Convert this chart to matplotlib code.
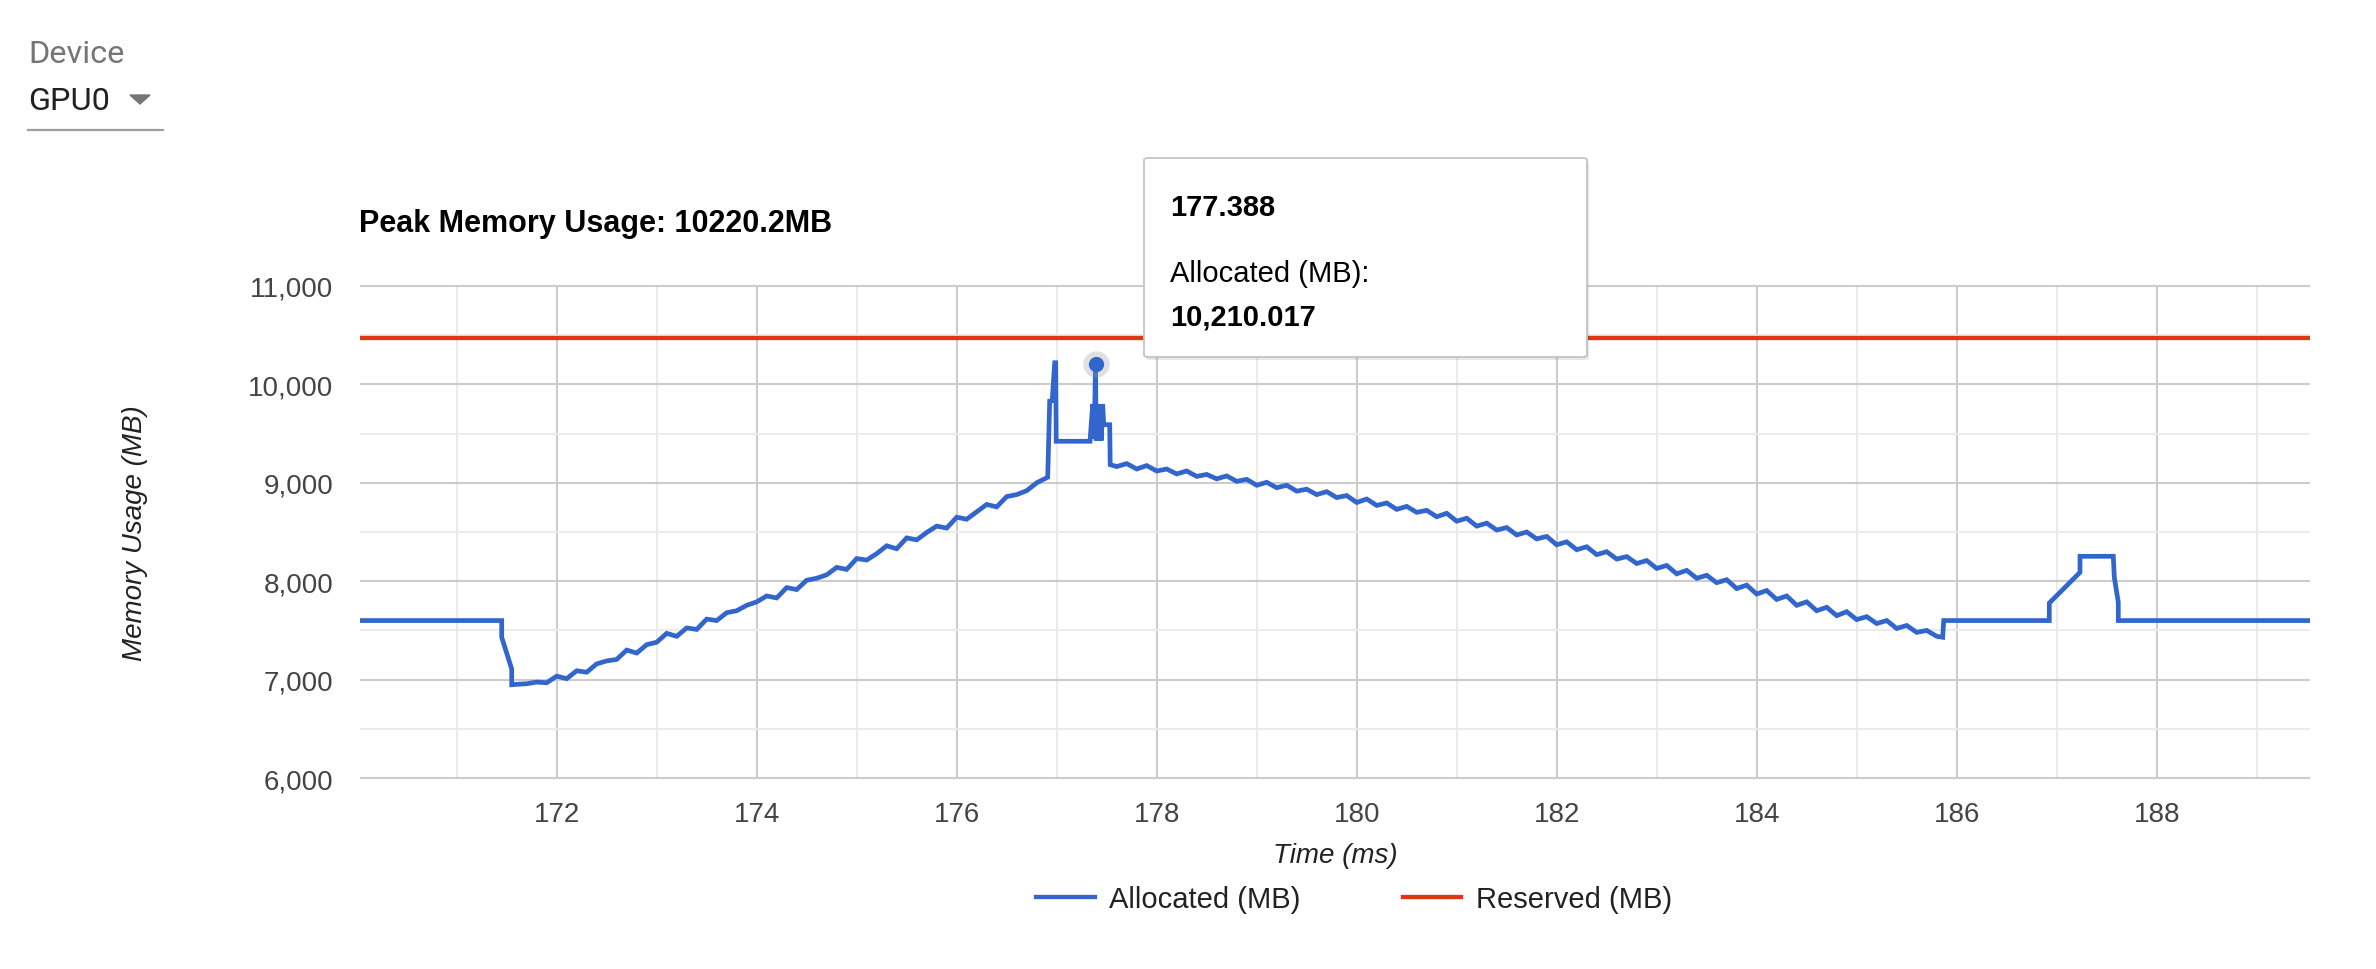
import matplotlib
matplotlib.use('Agg')
import matplotlib.pyplot as plt
from matplotlib.ticker import FuncFormatter, FixedLocator
from matplotlib.patches import FancyBboxPatch, Polygon
from matplotlib.lines import Line2D

plt.rcParams['font.family'] = ['Liberation Sans', 'DejaVu Sans']

# ---------------- data ----------------
pre_time = [170.0, 171.45, 171.45, 171.55, 171.55]
pre_mb = [7600, 7600, 7430, 7108, 6948]

ramp_time = [171.6, 171.7, 171.8, 171.9, 172.0, 172.1, 172.2, 172.3, 172.4, 172.5,
             172.6, 172.7, 172.8, 172.9, 173.0, 173.1, 173.2, 173.3, 173.4, 173.5,
             173.6, 173.7, 173.8, 173.9, 174.0, 174.1, 174.2, 174.3, 174.4, 174.5,
             174.6, 174.7, 174.8, 174.9, 175.0, 175.1, 175.2, 175.3, 175.4, 175.5,
             175.6, 175.7, 175.8, 175.9, 176.0, 176.1, 176.2, 176.3, 176.4, 176.5,
             176.6, 176.7, 176.8, 176.9]
ramp_mb = [6952, 6958, 6975, 6968, 7035, 7010, 7090, 7075, 7160, 7190,
           7205, 7300, 7270, 7355, 7380, 7470, 7440, 7525, 7510, 7615,
           7600, 7680, 7700, 7755, 7790, 7850, 7830, 7935, 7915, 8010,
           8030, 8065, 8140, 8120, 8230, 8215, 8280, 8360, 8330, 8440,
           8420, 8495, 8560, 8540, 8650, 8630, 8705, 8780, 8755, 8860,
           8880, 8920, 9000, 9050]

peak_time = [176.91, 176.93, 176.955, 176.98, 176.99, 176.995, 177.333, 177.36,
             177.375, 177.388, 177.395, 177.41, 177.42, 177.435, 177.445, 177.46,
             177.47, 177.53, 177.535]
peak_mb = [9056, 9830, 9834, 10220, 10220, 9422, 9422, 9800,
           9450, 10210, 9430, 9800, 9430, 9800, 9430, 9800,
           9590, 9590, 9184]

decline_time = [177.6, 177.7, 177.8, 177.9, 178.0, 178.1, 178.2, 178.3, 178.4, 178.5,
                178.6, 178.7, 178.8, 178.9, 179.0, 179.1, 179.2, 179.3, 179.4, 179.5,
                179.6, 179.7, 179.8, 179.9, 180.0, 180.1, 180.2, 180.3, 180.4, 180.5,
                180.6, 180.7, 180.8, 180.9, 181.0, 181.1, 181.2, 181.3, 181.4, 181.5,
                181.6, 181.7, 181.8, 181.9, 182.0, 182.1, 182.2, 182.3, 182.4, 182.5,
                182.6, 182.7, 182.8, 182.9, 183.0, 183.1, 183.2, 183.3, 183.4, 183.5,
                183.6, 183.7, 183.8, 183.9, 184.0, 184.1, 184.2, 184.3, 184.4, 184.5,
                184.6, 184.7, 184.8, 184.9, 185.0, 185.1, 185.2, 185.3, 185.4, 185.5,
                185.6, 185.7, 185.8, 185.86]
decline_mb = [9165, 9195, 9140, 9175, 9120, 9140, 9090, 9120, 9065, 9085,
              9040, 9070, 9015, 9035, 8975, 9005, 8950, 8975, 8915, 8935,
              8880, 8910, 8850, 8870, 8800, 8835, 8770, 8795, 8730, 8760,
              8700, 8720, 8655, 8690, 8610, 8640, 8560, 8590, 8520, 8545,
              8470, 8500, 8430, 8455, 8370, 8400, 8320, 8350, 8270, 8300,
              8225, 8250, 8180, 8210, 8130, 8160, 8075, 8110, 8030, 8060,
              7985, 8015, 7925, 7960, 7870, 7905, 7815, 7850, 7755, 7790,
              7700, 7735, 7650, 7690, 7610, 7640, 7570, 7600, 7520, 7550,
              7480, 7500, 7440, 7430]

tail_time = [185.87, 186.926, 186.926, 187.233, 187.233, 187.566, 187.576, 187.616, 187.616, 189.6]
tail_mb = [7600, 7600, 7778, 8090, 8253, 8253, 8040, 7785, 7600, 7600]

reserved_time = [170.0, 189.6]
reserved_mb = [10472, 10472]

x_major_ticks = [172, 174, 176, 178, 180, 182, 184, 186, 188]
x_minor_ticks = [171, 173, 175, 177, 179, 181, 183, 185, 187, 189]
y_major_ticks = [6000, 7000, 8000, 9000, 10000, 11000]
y_minor_ticks = [6500, 7500, 8500, 9500, 10500]

tooltip_time = 177.388
tooltip_mb = 10210.017
peak_usage = 10220.2

series_labels = ['Allocated (MB)', 'Reserved (MB)']
BLUE = '#3366cc'
RED = '#dc3912'

# ---------------- figure ----------------
W, H = 2376, 970
fig = plt.figure(figsize=(W / 100, H / 100), dpi=100)
fig.patch.set_facecolor('white')


def fx(px):
    return px / W


def fy(py):
    return 1 - py / H


ax = fig.add_axes([fx(360), fy(780), fx(2310) - fx(360), fy(286) - fy(780)])
ax.set_xlim(170.033, 189.533)
ax.set_ylim(5990, 11010)
for s in ax.spines.values():
    s.set_visible(False)

ax.xaxis.set_major_locator(FixedLocator(x_major_ticks))
ax.xaxis.set_minor_locator(FixedLocator(x_minor_ticks))
ax.yaxis.set_major_locator(FixedLocator(y_major_ticks))
ax.yaxis.set_minor_locator(FixedLocator(y_minor_ticks))
ax.yaxis.set_major_formatter(FuncFormatter(lambda v, p: f'{int(v):,}'))
ax.xaxis.set_major_formatter(FuncFormatter(lambda v, p: f'{int(v)}'))
ax.grid(which='major', color='#cccccc', lw=1.5)
ax.grid(which='minor', color='#ebebeb', lw=1.5)
ax.set_axisbelow(True)
ax.tick_params(which='both', length=0)
ax.tick_params(axis='y', pad=19, labelsize=20, labelcolor='#444444')
ax.tick_params(axis='x', pad=16, labelsize=20, labelcolor='#444444')

alloc_time = pre_time + ramp_time + peak_time + decline_time + tail_time
alloc_mb = pre_mb + ramp_mb + peak_mb + decline_mb + tail_mb

ax.plot(reserved_time, reserved_mb, color=RED, lw=3.1, zorder=3)
ax.plot(alloc_time, alloc_mb, color=BLUE, lw=3.4, zorder=3, solid_joinstyle='miter')

# hovered point
ax.plot([tooltip_time], [tooltip_mb], 'o', ms=19, color='#999999', alpha=0.3, mec='none', zorder=4)
ax.plot([tooltip_time], [tooltip_mb], 'o', ms=11, color=BLUE, mec='none', zorder=5)

# titles / axis labels
fig.text(fx(359), fy(232), f'Peak Memory Usage: {peak_usage}MB', fontweight='bold',
         fontsize=22, va='baseline', color='black')
fig.text(fx(1335), fy(856), 'Time (ms)', style='italic', fontsize=20, color='#222222',
         ha='center', va='center')
fig.text(fx(135), fy(533), 'Memory Usage (MB)', style='italic', fontsize=20, color='#222222',
         ha='center', va='center', rotation=90)

# legend
handles = [Line2D([], [], color=BLUE, lw=3.1), Line2D([], [], color=RED, lw=3.1)]
fig.legend(handles, series_labels, loc='center', bbox_to_anchor=(fx(1354), fy(900)),
           ncol=2, frameon=False, fontsize=21, handlelength=2.0, handletextpad=0.5,
           columnspacing=3.5, labelcolor='#222222')

# tooltip
shadow = FancyBboxPatch((fx(1146), fy(361)), fx(1587) - fx(1144), fy(159) - fy(358),
                        boxstyle='round,pad=0,rounding_size=0.002', transform=fig.transFigure,
                        fc='#00000018', ec='none', zorder=9)
fig.add_artist(shadow)
box = FancyBboxPatch((fx(1144), fy(358)), fx(1587) - fx(1144), fy(159) - fy(358),
                     boxstyle='round,pad=0,rounding_size=0.002', transform=fig.transFigure,
                     fc='white', ec='#c4c4c4', lw=1.3, zorder=10)
fig.add_artist(box)
fig.text(fx(1170), fy(216), f'{tooltip_time}', fontweight='bold', fontsize=21,
         va='baseline', color='black', zorder=11)
fig.text(fx(1170), fy(282), f'{series_labels[0]}:', fontsize=21,
         va='baseline', color='black', zorder=11)
fig.text(fx(1170), fy(326), f'{tooltip_mb:,.3f}', fontweight='bold', fontsize=21,
         va='baseline', color='black', zorder=11)

# device selector
fig.text(fx(28), fy(63), 'Device', family=['Roboto', 'DejaVu Sans'], fontsize=23.4,
         color='#757575', va='baseline')
fig.text(fx(28), fy(110), 'GPU0', family=['Roboto', 'DejaVu Sans'], fontsize=23.4,
         color='#212121', va='baseline')
fig.add_artist(Polygon([(fx(130), fy(96)), (fx(150), fy(96)), (fx(140), fy(105))],
                       closed=True, transform=fig.transFigure, color='#757575'))
fig.add_artist(Line2D([fx(28), fx(163)], [fy(130.5), fy(130.5)], color='#9e9e9e', lw=1.6,
                      transform=fig.transFigure))

fig.savefig('out.png', dpi=100, facecolor='white')
